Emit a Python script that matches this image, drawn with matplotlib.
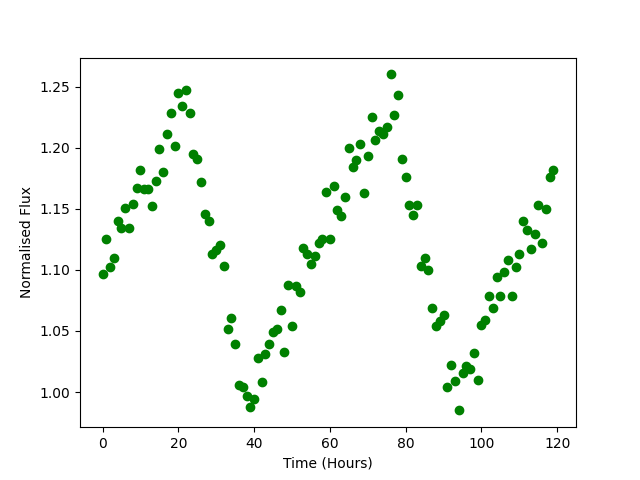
import numpy as np
import matplotlib
matplotlib.use("Agg")
import matplotlib.pyplot as plt

# hours since start of observation
time_hours = list(range(120))

# normalised flux
flux = [
    1.097, 1.125, 1.102, 1.110, 1.140, 1.134, 1.151, 1.134, 1.154, 1.167,
    1.182, 1.166, 1.166, 1.152, 1.173, 1.199, 1.180, 1.211, 1.228, 1.201,
    1.245, 1.234, 1.247, 1.228, 1.195, 1.191, 1.172, 1.146, 1.140, 1.113,
    1.116, 1.120, 1.103, 1.052, 1.061, 1.039, 1.006, 1.004, 0.997, 0.988,
    0.994, 1.028, 1.008, 1.031, 1.039, 1.049, 1.052, 1.067, 1.033, 1.088,
    1.054, 1.087, 1.082, 1.118, 1.113, 1.105, 1.111, 1.122, 1.125, 1.164,
    1.125, 1.169, 1.149, 1.144, 1.160, 1.200, 1.184, 1.190, 1.203, 1.163,
    1.193, 1.225, 1.206, 1.214, 1.211, 1.217, 1.260, 1.227, 1.243, 1.191,
    1.176, 1.153, 1.145, 1.153, 1.103, 1.110, 1.100, 1.069, 1.054, 1.058,
    1.063, 1.004, 1.022, 1.009, 0.985, 1.016, 1.021, 1.019, 1.032, 1.010,
    1.055, 1.059, 1.079, 1.069, 1.094, 1.079, 1.098, 1.108, 1.079, 1.102,
    1.113, 1.140, 1.133, 1.117, 1.129, 1.153, 1.122, 1.150, 1.176, 1.182,
]

plt.figure(figsize=(6.4, 4.8), dpi=100)
plt.plot(time_hours, flux, 'o', color='green')
plt.xlabel('Time (Hours)')
plt.ylabel('Normalised Flux')
plt.savefig('out.png', dpi=100)
